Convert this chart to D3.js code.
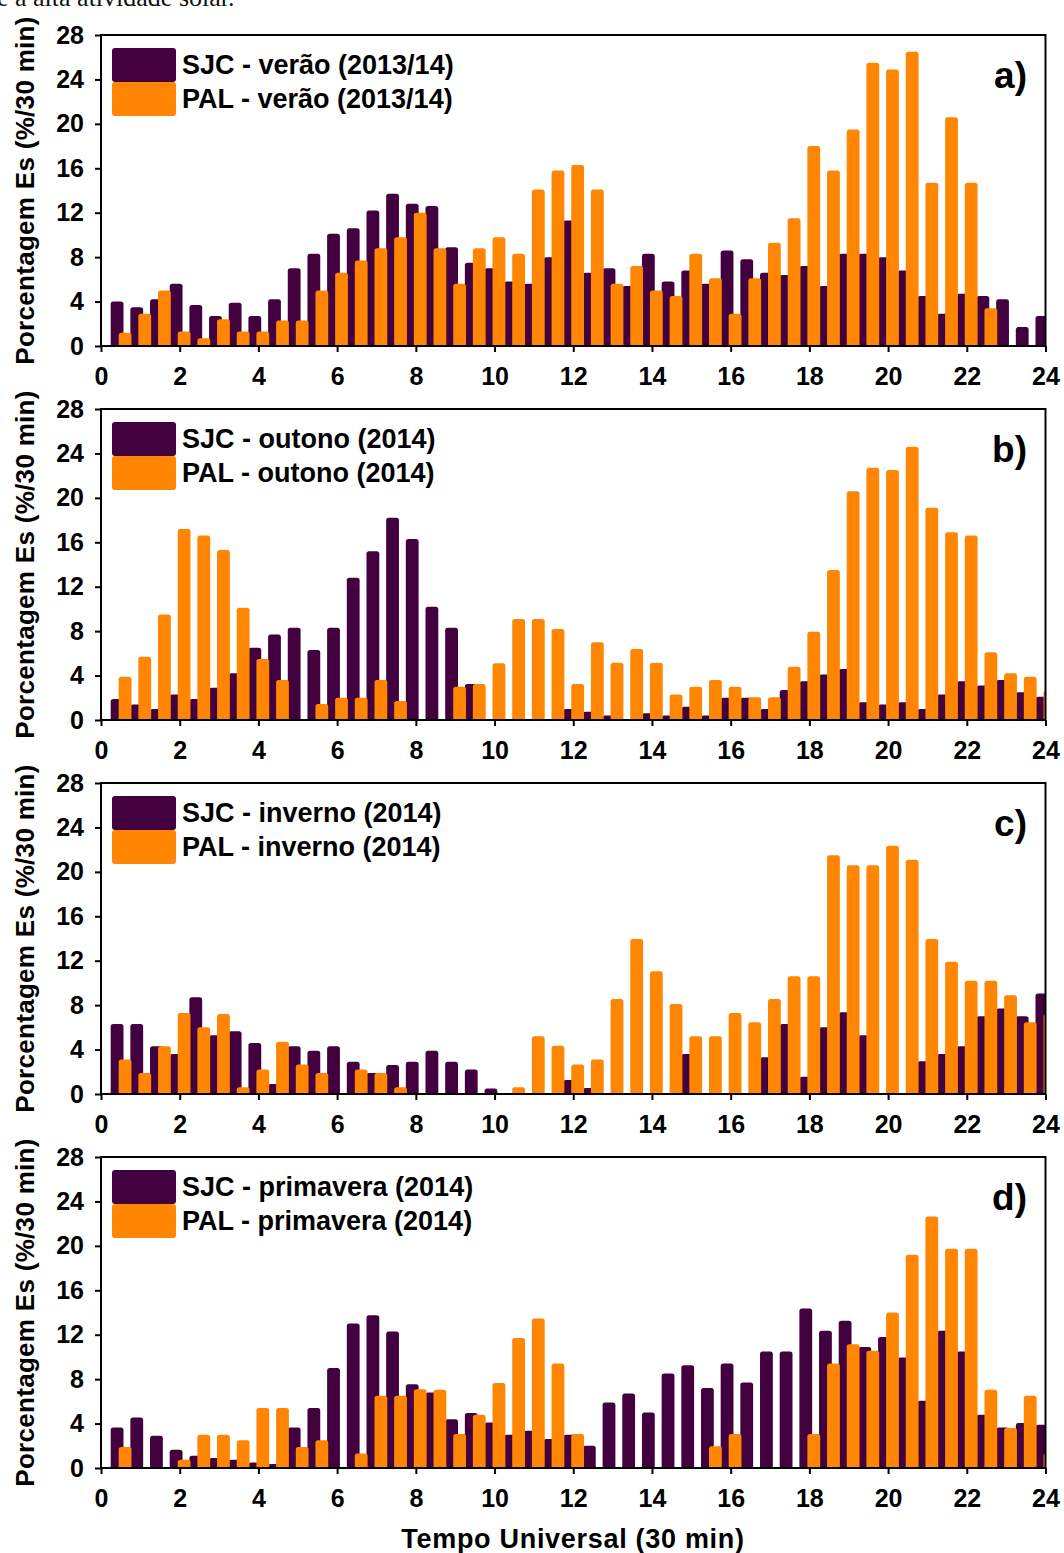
<!DOCTYPE html>
<html>
<head>
<meta charset="utf-8">
<script src="https://cdn.jsdelivr.net/npm/d3@7"></script>
<style>
  html, body { margin: 0; padding: 0; background: #fff; }
  svg { display: block; }
</style>
</head>
<body>
<svg id="chart" width="1064" height="1553"></svg>
<script>
// Half-hour slots (UT hours) at which Es occurrence is counted
const slots = [0.5,1,1.5,2,2.5,3,3.5,4,4.5,5,5.5,6,6.5,7,7.5,8,8.5,9,9.5,10,10.5,11,11.5,12,
               12.5,13,13.5,14,14.5,15,15.5,16,16.5,17,17.5,18,18.5,19,19.5,20,20.5,21,21.5,22,22.5,23,23.5,24];

// Percentage of Es per 30 min — São José dos Campos (SJC) and Palmas (PAL)
const sjcVerao = [4.0,3.5,4.2,5.6,3.7,2.7,3.9,2.7,4.2,7.0,8.3,10.1,10.6,12.2,13.7,12.8,12.6,8.9,7.5,7.0,
                  5.8,5.6,8.0,11.3,6.6,7.0,5.4,8.3,5.8,6.8,5.6,8.6,7.8,6.6,6.4,7.2,5.4,8.3,8.3,8.0,
                  6.8,4.5,2.9,4.7,4.5,4.2,1.7,2.7];
const palVerao = [1.2,2.9,5.0,1.3,0.7,2.4,1.3,1.3,2.3,2.3,5.0,6.6,7.7,8.8,9.8,12.0,8.8,5.6,8.8,9.8,
                  8.3,14.1,15.8,16.3,14.1,5.6,7.2,5.0,4.5,8.3,6.1,2.9,6.1,9.3,11.5,18.0,15.8,19.5,25.5,24.9,
                  26.5,14.7,20.6,14.7,3.4,0,0,0];

const sjcOutono = [1.9,1.4,1.0,2.3,1.9,2.9,4.2,6.5,7.7,8.3,6.3,8.3,12.8,15.2,18.2,16.3,10.2,8.3,3.25,0,
                   0,0,0,1.0,0.75,0.4,0.1,0.6,0.4,1.2,0.4,2.0,2.0,1.0,2.7,3.5,4.1,4.6,1.6,1.4,
                   1.6,1.0,2.3,3.5,3.1,3.6,2.5,2.1];
const palOutono = [3.9,5.7,9.5,17.2,16.6,15.3,10.1,5.5,3.6,0,1.45,2.0,2.0,3.6,1.7,0,0,3.0,3.25,5.1,
                   9.1,9.1,8.2,3.25,7.0,5.15,6.4,5.15,2.3,3.0,3.6,3.0,2.05,2.05,4.8,7.95,13.5,20.6,22.7,22.5,
                   24.6,19.1,16.9,16.6,6.1,4.2,3.9,2.65];

const sjcInverno = [6.3,6.3,4.3,3.6,8.7,5.3,5.65,4.6,0.9,4.3,3.9,4.3,2.9,1.9,2.6,2.9,3.9,2.9,2.2,0.5,
                    0,0,0,1.25,0.55,0,0,0,0,3.6,0,0,0,3.3,6.3,1.55,6.0,7.35,5.3,0,
                    0,2.95,3.6,4.3,7.0,7.7,7.0,9.05];
const palInverno = [3.1,1.9,4.3,7.3,6.0,7.2,0.6,2.2,4.7,2.65,1.9,0,2.2,1.9,0.6,0,0,0,0,0,
                    0.6,5.2,4.35,2.65,3.1,8.55,13.95,11.05,8.1,5.2,5.2,7.3,6.45,8.55,10.6,10.6,21.5,20.6,20.6,22.35,
                    21.1,13.95,11.9,10.2,10.2,8.9,6.45,7.2];

const sjcPrimavera = [3.65,4.55,2.9,1.65,1.1,0.9,0.75,0.5,0.35,3.65,5.4,9.0,13.0,13.75,12.3,7.55,6.8,4.4,4.95,4.1,
                      3.0,3.35,2.6,3.0,2.0,5.9,6.7,5.0,8.5,9.25,7.2,9.4,7.7,10.5,10.5,14.35,12.35,13.25,10.9,11.8,
                      9.95,6.05,12.35,10.5,4.8,3.65,4.05,3.9];
const palPrimavera = [1.9,0,0,0.75,3.0,3.0,2.5,5.4,5.4,1.9,2.5,0,1.3,6.5,6.5,7.1,7.05,3.05,4.8,7.65,
                      11.7,13.45,9.4,3.05,0,0,0,0,0,0,1.95,3.05,0,0,0,3.05,9.4,11.15,10.55,14.0,
                      19.2,22.65,19.75,19.75,7.05,3.6,6.5,1.3];

// Legend texts and panel tags
const sjcLabels = ["SJC - verão (2013/14)", "SJC - outono (2014)", "SJC - inverno (2014)", "SJC - primavera (2014)"];
const palLabels = ["PAL - verão (2013/14)", "PAL - outono (2014)", "PAL - inverno (2014)", "PAL - primavera (2014)"];
const panelTags = ["a)", "b)", "c)", "d)"];

// Axis ticks
const yTicks = [0,4,8,12,16,20,24,28];
const xTicks = [0,2,4,6,8,10,12,14,16,18,20,22,24];

const sjcSeries = [sjcVerao, sjcOutono, sjcInverno, sjcPrimavera];
const palSeries = [palVerao, palOutono, palInverno, palPrimavera];

// ---------- layout ----------
const FONT = "'Liberation Sans', Arial, Helvetica, sans-serif";
const COLOR_SJC = "#42003f";
const COLOR_PAL = "#ff8502";
const plotLeft = 101, plotRight = 1045.5;
const panelTops = [35, 409, 783, 1157];
const panelH = 311;
const barW = 12.8, sjcShift = -3.6, palShift = 4.4;

const svg = d3.select("#chart");

// Tail of the preceding paragraph, cut by the page edge
svg.append("text")
  .attr("x", -3).attr("y", 6)
  .attr("font-family", "'Liberation Serif', 'Times New Roman', serif")
  .attr("font-size", 26)
  .attr("fill", "#111")
  .text("e a alta atividade solar.");

const x = d3.scaleLinear().domain([0, 24]).range([plotLeft, plotRight]);

// Column with rounded top corners
function columnPath(cx, w, yBase, yTop, r) {
  const x0 = cx - w / 2, x1 = cx + w / 2;
  const h = yBase - yTop;
  if (h <= 0.01) return "";
  const rr = Math.min(r, h, w / 2);
  return `M${x0},${yBase}V${yTop + rr}Q${x0},${yTop} ${x0 + rr},${yTop}` +
         `H${x1 - rr}Q${x1},${yTop} ${x1},${yTop + rr}V${yBase}Z`;
}

panelTops.forEach((top, i) => {
  const y = d3.scaleLinear().domain([0, 28]).range([top + panelH, top]);
  const g = svg.append("g");

  const clipId = "clip" + i;
  g.append("clipPath").attr("id", clipId)
    .append("rect")
    .attr("x", plotLeft).attr("y", top - 2)
    .attr("width", plotRight - plotLeft).attr("height", panelH + 2);

  const bars = g.append("g").attr("clip-path", `url(#${clipId})`);

  bars.selectAll("path.sjc")
    .data(slots.map((t, k) => ({ t, v: sjcSeries[i][k] })))
    .join("path")
    .attr("class", "sjc")
    .attr("fill", COLOR_SJC)
    .attr("d", d => columnPath(x(d.t) + sjcShift, barW, y(0), y(d.v), 2.5));

  bars.selectAll("path.pal")
    .data(slots.map((t, k) => ({ t, v: palSeries[i][k] })))
    .join("path")
    .attr("class", "pal")
    .attr("fill", COLOR_PAL)
    .attr("d", d => columnPath(x(d.t) + palShift, barW, y(0), y(d.v), 2.5));

  // Axes
  const yAxis = d3.axisLeft(y).tickValues(yTicks).tickSize(6).tickPadding(11).tickFormat(d3.format("d"));
  const yg = g.append("g").attr("transform", `translate(${plotLeft},0)`).call(yAxis);

  const xAxis = d3.axisBottom(x).tickValues(xTicks).tickSize(6).tickPadding(11).tickFormat(d3.format("d"));
  const xg = g.append("g").attr("transform", `translate(0,${top + panelH})`).call(xAxis);

  [yg, xg].forEach(a => {
    a.select(".domain").remove();
    a.selectAll(".tick line").attr("stroke", "#000").attr("stroke-width", 2);
    a.selectAll(".tick text")
      .attr("font-family", FONT).attr("font-weight", "bold")
      .attr("font-size", 25).attr("fill", "#000");
  });
  xg.selectAll(".tick text").attr("dy", "0.88em");

  // Frame
  g.append("rect")
    .attr("x", plotLeft).attr("y", top)
    .attr("width", plotRight - plotLeft).attr("height", panelH)
    .attr("fill", "none").attr("stroke", "#000").attr("stroke-width", 2);

  // Y-axis title
  g.append("text")
    .attr("transform", `translate(34,${top + panelH / 2}) rotate(-90)`)
    .attr("text-anchor", "middle")
    .attr("font-family", FONT).attr("font-weight", "bold").attr("font-size", 26)
    .attr("letter-spacing", 0.3)
    .text("Porcentagem Es (%/30 min)");

  // Legend
  const leg = g.append("g");
  leg.append("rect").attr("x", 112).attr("y", top + 13).attr("width", 64).attr("height", 34)
    .attr("rx", 3).attr("fill", COLOR_SJC);
  leg.append("rect").attr("x", 112).attr("y", top + 47).attr("width", 64).attr("height", 34)
    .attr("rx", 3).attr("fill", COLOR_PAL);
  leg.append("text").attr("x", 182).attr("y", top + 39)
    .attr("font-family", FONT).attr("font-weight", "bold").attr("font-size", 27)
    .text(sjcLabels[i]);
  leg.append("text").attr("x", 182).attr("y", top + 73)
    .attr("font-family", FONT).attr("font-weight", "bold").attr("font-size", 27)
    .text(palLabels[i]);

  // Panel tag
  g.append("text")
    .attr("x", 1027).attr("y", top + 53)
    .attr("text-anchor", "end")
    .attr("font-family", FONT).attr("font-weight", "bold").attr("font-size", 37)
    .text(panelTags[i]);
});

// X-axis title
svg.append("text")
  .attr("x", 573).attr("y", 1548)
  .attr("text-anchor", "middle")
  .attr("font-family", FONT).attr("font-weight", "bold").attr("font-size", 27)
  .attr("letter-spacing", 0.7)
  .text("Tempo Universal (30 min)");
</script>
</body>
</html>
